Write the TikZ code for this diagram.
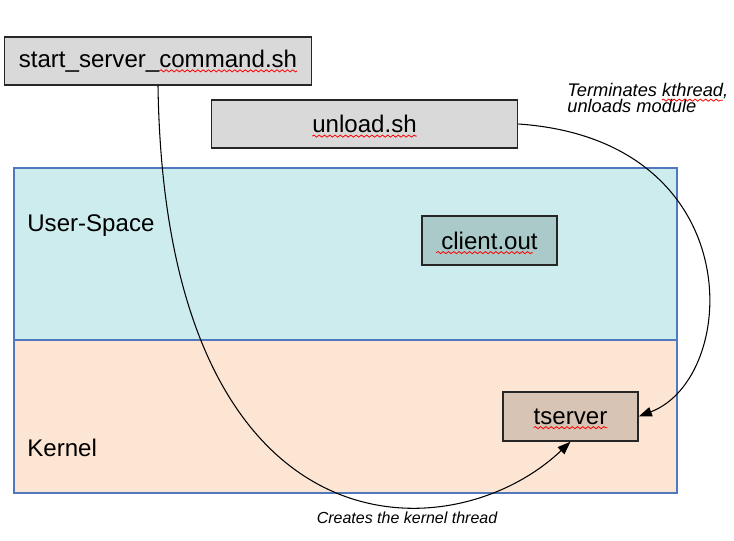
\documentclass[tikz,border=0pt]{standalone}
\usepackage{fontspec}
\setmainfont{Liberation Sans}
\usepackage{xcolor}
\usepackage{tikz}
\usetikzlibrary{arrows.meta, positioning, calc, decorations.pathmorphing}

\definecolor{scriptgray}{RGB}{217,217,217}
\definecolor{userfill}{RGB}{204,236,237}
\definecolor{kernelfill}{RGB}{253,229,211}
\definecolor{regionline}{RGB}{80,120,190}
\definecolor{clientfill}{RGB}{170,201,201}
\definecolor{serverfill}{RGB}{215,196,181}

\newcommand{\bigfont}{\fontsize{13.7pt}{16pt}\selectfont}
\newcommand{\notefont}{\fontsize{9.1pt}{9.7pt}\selectfont\itshape}
\newcommand{\termfont}{\fontsize{10.4pt}{9.2pt}\selectfont\itshape}
\newlength{\startw}\newlength{\commandw}
\newlength{\unloadw}\newlength{\clientw}\newlength{\tserverw}
\newlength{\termw}\newlength{\kthreadw}

\begin{document}
% widths of the words with a spell-check mark
\settowidth{\startw}{\bigfont start\_server\_command.sh}
\settowidth{\commandw}{\bigfont command.sh}
\settowidth{\unloadw}{\bigfont unload.sh}
\settowidth{\clientw}{\bigfont client.out}
\settowidth{\tserverw}{\bigfont tserver}
\settowidth{\termw}{\termfont Terminates\ }
\settowidth{\kthreadw}{\termfont kthread}
\begin{tikzpicture}[auto, >={Triangle[length=7.5pt, width=5.5pt]}]
		\useasboundingbox (0,0) rectangle (14.68,10.82);
		
		% Define styles
		\tikzstyle{region} = [rectangle, draw=regionline, line width=0.6pt, minimum width=13.26cm, inner sep=0pt, outer sep=0pt]
		\tikzstyle{script} = [rectangle, draw=black!85, line width=0.8pt, fill=scriptgray, minimum width=6.13cm, minimum height=0.96cm, font=\bigfont]
		\tikzstyle{proc} = [rectangle, draw=black!85, line width=0.8pt, minimum width=2.7cm, minimum height=0.98cm, font=\bigfont]
		\tikzstyle{space} = [font=\bigfont, inner sep=0pt, anchor=base west]
		\tikzstyle{note} = [font=\notefont, inner sep=0pt]
		\tikzstyle{link} = [->, line width=0.6pt, black]
		\tikzstyle{spell} = [red, line width=0.45pt, decorate, decoration={snake, amplitude=0.6pt, segment length=3pt}]
		
		% Regions
		\node[region, fill=userfill, minimum height=3.44cm] (user) at (6.91,5.74) {};
		\node[region, fill=kernelfill, minimum height=3.06cm, below=0pt of user] (kernel) {};
		\node[space] (userlabel) at ($(user.north west)+(0.26,-1.28)$) {User-Space};
		\node[space] (kernellabel) at ($(kernel.south west)+(0.26,0.72)$) {Kernel};
		
		% Scripts
		\node[script] (start) at (3.16,9.6) {start\_server\_command.sh};
		\node[script] (unload) at (7.29,8.34) {unload.sh};
		
		% Processes
		\node[proc, fill=clientfill] (client) at (9.79,6.01) {client.out\hspace{0.2cm}};
		\node[proc, fill=serverfill] (tserver) at (11.41,2.49) {tserver};
		
		% Arrows
		\draw[link] (start.south) .. controls +(0.14,-9.5) and +(-2.4,-2.28) .. (tserver.south);
		\draw[link] (unload.east) .. controls +(4.64,-0.32) and +(2.04,0.78) .. (tserver.east);
		
		% Labels
		\node[note] (createnote) at (8.14,0.46) {Creates the kernel thread};
		\node[note, font=\termfont, anchor=base west] (termnote) at (11.34,8.88) {Terminates kthread,};
		\node[note, font=\termfont, anchor=base west] (modnote) at (11.34,8.56) {unloads module};
		
		% Spell-check marks
		\draw[spell] ($(start.base)+(0.5\startw-\commandw,-2pt)$) -- ++(\commandw,0);
		\draw[spell] ($(unload.base)+(-0.5\unloadw,-2pt)$) -- ++(\unloadw,0);
		\draw[spell] ($(client.base)+(-0.5\clientw-0.1cm,-2pt)$) -- ++(\clientw,0);
		\draw[spell] ($(tserver.base)+(-0.5\tserverw,-2pt)$) -- ++(\tserverw,0);
		\draw[spell] ($(termnote.base west)+(\termw,-1.8pt)$) -- ++(\kthreadw,0);
		
\end{tikzpicture}
\end{document}
